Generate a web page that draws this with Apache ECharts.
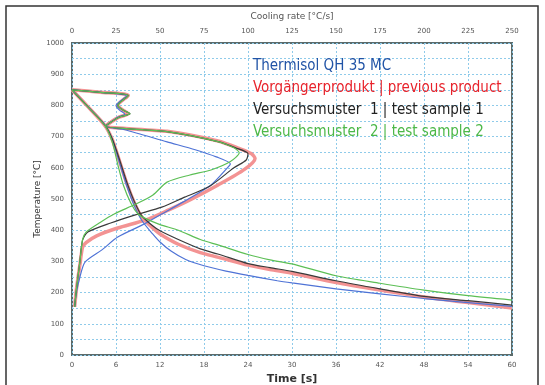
<!DOCTYPE html>
<html>
<head>
<meta charset="utf-8">
<script src="https://cdn.jsdelivr.net/npm/echarts@6/dist/echarts.min.js"></script>
<style>
	html, body { margin: 0; padding: 0; background: #fff; }
	#coolingChart { width: 545px; height: 385px; }
</style>
</head>
<body>
<div id="coolingChart"></div>
<script>
// tick labels
const timeTicks = [0, 6, 12, 18, 24, 30, 36, 42, 48, 54, 60]
const rateTicks = [0, 25, 50, 75, 100, 125, 150, 175, 200, 225, 250]

const legendNames = [
	"Thermisol QH 35 MC",
	"Vorgängerprodukt | previous product",
	"Versuchsmuster  1 | test sample 1",
	"Versuchsmuster  2 | test sample 2"
]

// temperature [°C] over time [s]
const timeBlue = [[0,850],[2,800],[4.5,737],[5.5,690],[6.5,615],[7.5,540],[8.5,478],[9.5,432],[11,388],[12,362],[13.5,333],[15.5,306],[18,286],[21,269],[24,255],[28,238],[30,231],[36,212],[42,196],[48,181],[54,168],[60,156]]
const timeRed = [[0,850],[2,800],[4.5,735],[5.5,690],[6.5,620],[7.5,548],[8.5,488],[9.5,442],[11,407],[12,388],[14.5,355],[17.5,328],[20,313],[24,288],[27,274],[30,262],[36,232],[42,208],[48,186],[54,168],[60,151]]
const timeBlack = [[0,850],[2,800],[4.5,736],[5.5,692],[6.5,625],[7.5,552],[8.5,492],[9.5,447],[11,414],[12,398],[14.5,370],[17.5,340],[20,323],[24,293],[27,280],[30,268],[36,238],[42,212],[48,188],[54,174],[60,160]]
const timeGreen = [[0,850],[2,800],[4.5,735],[5.5,682],[6.3,605],[7,545],[8,488],[9,452],[10,438],[12,418],[14.5,400],[17.5,370],[20,352],[24,322],[27,305],[30,292],[36,254],[42,230],[48,208],[54,190],[60,176]]

// temperature [°C] over cooling rate [°C/s]
const rateBlue = [[0,850],[16,842],[31,830],[25,800],[27,785],[30,772],[26,762],[22,746],[19,733],[30,722],[54,683],[70,658],[82,635],[90,612],[88,598],[79,545],[63,490],[50,449],[40,417],[26,378],[17,337],[7.4,298],[4.5,250],[2.5,200],[1.5,154]]
const rateRed = [[0,850],[16,842],[32,832],[26,800],[29,785],[32,773],[27,763],[22,746],[19,733],[54,717],[83,686],[95,662],[102,645],[104,630],[98,595],[83,545],[67,497],[55,465],[42,433],[26,407],[14,382],[8,360],[6,345],[4.5,290],[2.5,210],[1.5,154]]
const rateBlack = [[0,850],[16,842],[32,832],[26,800],[29,785],[33,773],[27,763],[22,746],[19,733],[54,716],[83,684],[93,664],[100,645],[99,625],[92,600],[78,540],[64,506],[51,474],[36,449],[22,423],[9,394],[6,368],[4.5,300],[2.5,210],[1.5,154]]
const rateGreen = [[0,850],[16,842],[32,832],[26,800],[29,785],[33,773],[27,763],[22,746],[19,733],[54,716],[83,684],[92,664],[95,648],[90,620],[79,593],[67,577],[54,554],[46,513],[36,483],[24,452],[16,425],[8,394],[6,370],[4.5,300],[2.5,210],[1.5,154]]

const lineColors = ["#4f73d6", "#f39393", "#3a3a3a", "#5cbf55"]
const textColors = ["#2153a6", "#e8232b", "#222222", "#4cb848"]

const labelStyle = { fontSize: 7, color: "#555", fontFamily: "DejaVu Sans" }
const gridLine = { show: true, lineStyle: { color: "#8fcbea", type: [2, 2], width: 1 } }

function line(name, data, color, axis, width) {
	return {
		name: name,
		type: "line",
		xAxisIndex: axis,
		data: data,
		showSymbol: false,
		smooth: 0.25,
		lineStyle: { color: color, width: width },
		itemStyle: { color: color },
		z: 3
	}
}

let series = [
	line(legendNames[1], timeRed, lineColors[1], 0, 3.5),
	line(legendNames[1], rateRed, lineColors[1], 1, 3.5),
	line(legendNames[0], timeBlue, lineColors[0], 0, 1.2),
	line(legendNames[0], rateBlue, lineColors[0], 1, 1.2),
	line(legendNames[2], timeBlack, lineColors[2], 0, 1.2),
	line(legendNames[2], rateBlack, lineColors[2], 1, 1.2),
	line(legendNames[3], timeGreen, lineColors[3], 0, 1.2),
	line(legendNames[3], rateGreen, lineColors[3], 1, 1.2)
]

let legendText = legendNames.map(function (n, i) {
	return {
		type: "text",
		left: 253,
		top: 59 + i * 22,
		style: {
			text: n,
			fill: textColors[i],
			font: "15px 'Liberation Sans Narrow', 'DejaVu Sans Condensed', sans-serif"
		},
		z: 10
	}
})

let option = {
	animation: false,
	grid: {
		left: 72,
		right: 33,
		top: 43,
		bottom: 30,
		outerBoundsMode: "none",
		show: true,
		borderColor: "#5b6b6b",
		borderWidth: 2,
		backgroundColor: "#fff"
	},
	xAxis: [
		{
			type: "value",
			position: "bottom",
			min: timeTicks[0],
			max: timeTicks[timeTicks.length - 1],
			interval: 6,
			name: "Time [s]",
			nameLocation: "middle",
			nameGap: 18,
			nameTextStyle: { fontSize: 11, fontWeight: "bold", color: "#333", fontFamily: "DejaVu Sans" },
			axisLine: { show: false },
			axisTick: { show: false },
			axisLabel: Object.assign({ margin: 7 }, labelStyle),
			splitLine: gridLine
		},
		{
			type: "value",
			position: "top",
			min: rateTicks[0],
			max: rateTicks[rateTicks.length - 1],
			interval: 25,
			name: "Cooling rate [°C/s]",
			nameLocation: "middle",
			nameGap: 22,
			nameTextStyle: { fontSize: 9, color: "#555", fontFamily: "DejaVu Sans" },
			axisLine: { show: false },
			axisTick: { show: false },
			axisLabel: Object.assign({ margin: 8 }, labelStyle),
			splitLine: { show: false }
		}
	],
	yAxis: {
		type: "value",
		min: 0,
		max: 1000,
		interval: 50,
		name: "Temperature [°C]",
		nameLocation: "middle",
		nameGap: 30,
		nameMoveOverlap: false,
		nameTextStyle: { fontSize: 9, color: "#333", fontFamily: "DejaVu Sans" },
		axisLine: { show: false },
		axisTick: { show: false },
		axisLabel: Object.assign({
			margin: 8,
			formatter: function (v) { return v % 100 === 0 ? String(v) : "" }
		}, labelStyle),
		splitLine: gridLine
	},
	graphic: [
		{
			type: "rect",
			shape: { x: 6, y: 6, width: 532, height: 400 },
			style: { fill: null, stroke: "#333", lineWidth: 1.5 },
			silent: true,
			z: -1
		}
	].concat(legendText),
	series: series
}

var myChart = echarts.init(document.getElementById("coolingChart"))
myChart.setOption(option)
</script>
</body>
</html>
